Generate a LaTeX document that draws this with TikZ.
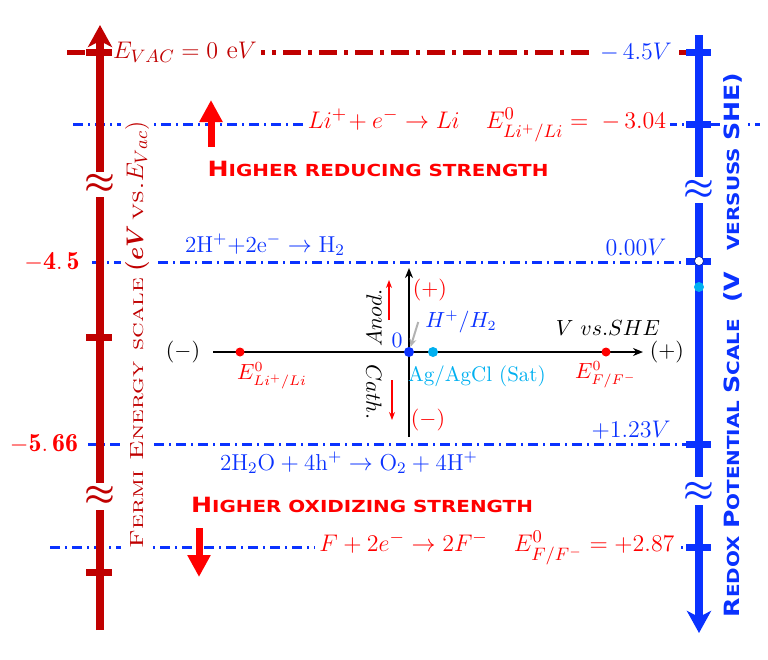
\documentclass[tikz,border=0pt]{standalone}
\usepackage{amsmath}
\usepackage{fontspec}
\usetikzlibrary{arrows.meta}
\newfontfamily\capfont{DejaVu Sans}[FakeStretch=1.2]
\newfontfamily\lmsc{lmromancaps10-regular.otf}[FakeStretch=1.4]
\newcommand{\bigc}{\fontsize{10.5}{11}\selectfont}
\newcommand{\smallc}{\fontsize{8.3}{9}\selectfont}
\definecolor{darkred}{RGB}{192,0,0}
\definecolor{potblue}{RGB}{10,50,255}
\definecolor{agblue}{RGB}{0,176,240}
\definecolor{hotred}{RGB}{255,0,0}

\begin{document}
\begin{tikzpicture}[x=0.5pt,y=-0.5pt,
    level/.style={potblue,line width=1.5pt,dash pattern=on 5pt off 2.5pt on 1pt off 2.5pt},
    vaclevel/.style={darkred,line width=2.5pt,dash pattern=on 9pt off 3.5pt on 2pt off 3.5pt},
    tickmark/.style={line width=3.5pt},
    bigtxt/.style={font=\fontsize{13}{15}\selectfont},
    midtxt/.style={font=\fontsize{11.5}{13}\selectfont},
    smalltxt/.style={font=\fontsize{10.5}{12}\selectfont},
    gap/.style={fill=white,inner sep=2pt},
    dot/.style={circle,inner sep=0pt,minimum size=5pt},
    brk/.style={font=\fontsize{16}{16}\selectfont}]
    \useasboundingbox (0,0) rectangle (768,660);

    % niveaus
    \coordinate (vacL) at (67,52);   \coordinate (vacR) at (710,52);
    \coordinate (liL) at (73,124);   \coordinate (liR) at (760,124);
    \coordinate (hL) at (92,262);    \coordinate (hR) at (710,262);
    \coordinate (oL) at (88,444);    \coordinate (oR) at (710,444);
    \coordinate (fL) at (50,547);    \coordinate (fR) at (710,547);
    \draw[vaclevel] (vacL) -- (vacR);
    \draw[level] (liL) -- (liR);
    \draw[level] (hL) -- (hR);
    \draw[level] (oL) -- (oR);
    \draw[level] (fL) -- (fR);

    % teksten op de niveaus
    \node[bigtxt,darkred,gap] (evac) at (185,52) {$E_{VAC} = 0\ \mathrm{e}V$};
    \node[bigtxt,potblue,gap] (vacv) at (636,52) {$-\,4.5V$};
    \node[bigtxt,hotred,gap] (lireac) at (487,125) {$Li^{+}\!+e^{-}\rightarrow Li\quad E^{0}_{Li^{+}/Li} =\;-\,3.04$};
    \node[bigtxt,hotred,gap] (freac) at (497,548) {$F+2e^{-}\rightarrow 2F^{-}\quad E^{0}_{F/F^{-}} = +2.87$};
    \node[midtxt,potblue] (hreac) at (265,245) {$\mathrm{2H^{+}{+}2e^{-}\rightarrow H_{2}}$};
    \node[midtxt,potblue] (hv) at (636,247) {$0.00V$};
    \node[midtxt,potblue] (oreac) at (349,463) {$\mathrm{2H_{2}O+4h^{+}\rightarrow O_{2}+4H^{+}}$};
    \node[midtxt,potblue] (ov) at (631,430) {$+1.23V$};
    \node[bigtxt,hotred] (fh) at (52,262) {$\mathbf{-4.\,5}$};
    \node[bigtxt,hotred] (fo) at (44,444) {$\mathbf{-5.\,66}$};

    % sterkte
    \node[hotred] (redtxt) at (378,169) {\capfont\bfseries\bigc H\smallc IGHER REDUCING STRENGTH};
    \node[hotred] (oxtxt) at (362,505) {\capfont\bfseries\bigc H\smallc IGHER OXIDIZING STRENGTH};
    \coordinate (upB) at (211,147);  \coordinate (upT) at (211,100);
    \coordinate (dnB) at (199,528);  \coordinate (dnT) at (199,577);
    \draw[hotred,line width=3.5pt,-{Triangle[length=11pt,width=11pt]}] (upB) -- (upT);
    \draw[hotred,line width=3.5pt,-{Triangle[length=11pt,width=11pt]}] (dnB) -- (dnT);

    % schaalteksten
    \node[darkred,rotate=90,gap] (fermi) at (137,335) {{\lmsc\fontsize{9.5}{10}\selectfont Fermi Energy scale} \fontsize{13}{14}\selectfont$\boldsymbol{(eV}$\,{\lmsc\fontsize{10}{10}\selectfont vs.}$E_{Vac})$};
    \node[potblue,rotate=90,gap] (redox) at (733,345) {\capfont\bfseries\bigc R\smallc EDOX \bigc P\smallc OTENTIAL \bigc S\smallc CALE\quad\bigc (V\quad\smallc VERSUSS \bigc SHE)};

    % Fermi-as
    \coordinate (fbot) at (100,630);
    \coordinate (ftop) at (100,25);
    \draw[darkred,line width=4pt] (fbot) -- (100,510);
    \draw[darkred,line width=4pt] (100,483) -- (100,197);
    \draw[darkred,line width=4pt,-{Stealth[length=11pt,width=12pt,inset=3pt]}] (100,172) -- (ftop);
    \node[darkred,brk] (fb1) at (100,184) {$\boldsymbol{\approx}$};
    \node[darkred,brk] (fb2) at (100,496) {$\boldsymbol{\approx}$};
    \foreach \y in {52,337,572}
        \draw[darkred,tickmark] (86,\y) -- (112,\y);

    % redox-as
    \coordinate (rtop) at (699,35);
    \coordinate (rbot) at (699,633);
    \draw[potblue,line width=4pt] (rtop) -- (699,177);
    \draw[potblue,line width=4pt] (699,203) -- (699,477);
    \draw[potblue,line width=4pt,-{Stealth[length=11pt,width=12pt,inset=3pt]}] (699,505) -- (rbot);
    \node[potblue,brk] (rb1) at (699,190) {$\boldsymbol{\approx}$};
    \node[potblue,brk] (rb2) at (699,492) {$\boldsymbol{\approx}$};
    \foreach \y in {52,124,261,444,547}
        \draw[potblue,tickmark] (686,\y) -- (711,\y);
    \node[circle,fill=white,draw=potblue!60!black,line width=0.3pt,inner sep=0pt,minimum size=4.5pt] (shezero) at (699,261) {};
    \node[dot,fill=agblue] (agzero) at (699,287) {};

    % potentiaalas vs. SHE
    \coordinate (xL) at (213,352);  \coordinate (xR) at (643,352);
    \coordinate (yB) at (409,437);  \coordinate (yT) at (409,268);
    \draw[line width=1.2pt,-{Stealth[length=5pt,width=4pt]}] (xL) -- (xR);
    \draw[line width=1.2pt,-{Stealth[length=5pt,width=4pt]}] (yB) -- (yT);
    \node[dot,fill=hotred,minimum size=4.5pt] (eli) at (240,352) {};
    \node[dot,fill=potblue] (she) at (409,352) {};
    \node[dot,fill=agblue] (agcl) at (433,352) {};
    \node[dot,fill=hotred,minimum size=4.5pt] (ef) at (606,352) {};
    \node[smalltxt] (xneg) at (183,352) {$(-)$};
    \node[smalltxt] (xpos) at (667,352) {$(+)$};
    \node[smalltxt,hotred] (elitxt) at (272,376) {$E^{0}_{Li^{+}/Li}$};
    \node[smalltxt,potblue] (zero) at (397,340) {$0$};
    \node[smalltxt,potblue] (hh) at (461,322) {$H^{+}/H_{2}$};
    \node[smalltxt,agblue] (agtxt) at (477,376) {Ag/AgCl (Sat)};
    \node[smalltxt] (vshe) at (608,328) {$V\ vs.SHE$};
    \node[smalltxt,hotred] (eftxt) at (606,375) {$E^{0}_{F/F^{-}}$};
    \node[smalltxt,hotred] (ypos) at (430,290) {$(+)$};
    \node[smalltxt,hotred] (yneg) at (428,420) {$(-)$};
    \node[smalltxt,rotate=90] (anod) at (374,318) {$Anod.$};
    \node[smalltxt,rotate=-90] (cath) at (374,392) {$Cath.$};
    \draw[gray!60,line width=1pt,-{Stealth[length=4pt,width=3.5pt]}] (hh.west) -- (she);

    % anodisch / kathodisch
    \coordinate (anB) at (389,320);  \coordinate (anT) at (389,280);
    \coordinate (caT) at (392,380);  \coordinate (caB) at (392,420);
    \draw[hotred,line width=0.6pt,-{Stealth[length=4pt,width=3pt]}] (anB) -- (anT);
    \draw[hotred,line width=0.6pt,-{Stealth[length=4pt,width=3pt]}] (caT) -- (caB);
\end{tikzpicture}
\end{document}
